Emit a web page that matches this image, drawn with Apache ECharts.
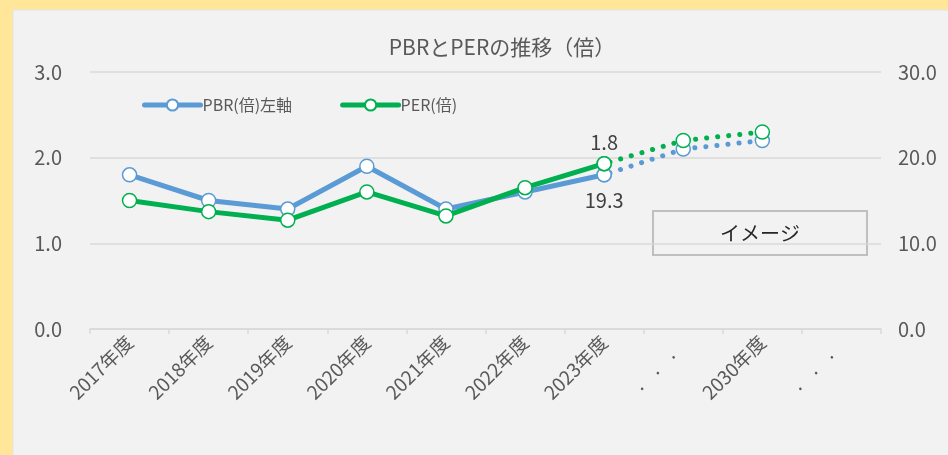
<!DOCTYPE html>
<html>
<head>
<meta charset="utf-8">
<script src="https://cdn.jsdelivr.net/npm/echarts@6/dist/echarts.min.js"></script>
<style>
  html, body { margin: 0; padding: 0; background: #FFE699; }
  #chart { width: 948px; height: 455px; }
</style>
</head>
<body>
<div id="chart"></div>
<script>
// データ
var years = ['2017年度', '2018年度', '2019年度', '2020年度', '2021年度', '2022年度', '2023年度', '.    .    .    ', '2030年度', '.    .    .    '];
var pbrActual = [1.8, 1.5, 1.4, 1.9, 1.4, 1.6, 1.8, '-', '-', '-'];
var pbrImage = ['-', '-', '-', '-', '-', '-', 1.8, 2.1, 2.2, '-'];
var perActual = [15.0, 13.7, 12.7, 16.0, 13.2, 16.5, 19.3, '-', '-', '-'];
var perImage = ['-', '-', '-', '-', '-', '-', 19.3, 22.0, 23.0, '-'];
var leftTicks = [0, 3, 1];
var rightTicks = [0, 30, 10];

var FONT = "'Noto Sans CJK JP', sans-serif";
var blue = '#5B9BD5';
var green = '#00B050';

var chart = echarts.init(document.getElementById('chart'));

// 2023年度だけラベルを出す
function withLabel(arr, idx, pos, off) {
    return arr.map(function (v, i) {
        if (i !== idx) return v;
        return {
            value: v,
            label: {
                show: true, position: pos, offset: off,
                fontFamily: FONT, fontSize: 20, color: '#404040',
                formatter: function (p) { return p.value.toFixed(1); }
            }
        };
    });
}

var marker = function (c) {
    return { color: '#fff', borderColor: c, borderWidth: 1.5 };
};

var option = {
    backgroundColor: '#FFE699',
    animation: false,
    graphic: [
        {
            type: 'rect', z: -10, silent: true,
            shape: { x: 13, y: 10, width: 940, height: 450 },
            style: { fill: '#F2F2F2', stroke: '#E3E3E3', lineWidth: 1 }
        },
        {
            type: 'group', left: 652, top: 210, z: 10,
            children: [
                { type: 'rect', shape: { x: 0, y: 0, width: 214, height: 44 },
                  style: { fill: '#F2F2F2', stroke: '#BFBFBF', lineWidth: 2 } },
                { type: 'text', x: 107, y: 22,
                  style: { text: 'イメージ', font: "20px 'Noto Sans CJK JP'", fill: '#262626',
                           align: 'center', verticalAlign: 'middle' } }
            ]
        }
    ],
    title: {
        text: 'PBRとPERの推移（倍）',
        left: 497, top: 32, textAlign: 'center',
        textStyle: { fontFamily: FONT, fontSize: 21, fontWeight: 'normal', color: '#595959' }
    },
    legend: {
        data: ['PBR(倍)左軸', 'PER(倍)'],
        left: 137, top: 92,
        itemWidth: 56, itemHeight: 14, itemGap: 48,
        lineStyle: { width: 5, cap: 'round' },
        textStyle: { fontFamily: FONT, fontSize: 16, color: '#595959', padding: [0, 0, 0, -3] }
    },
    grid: { left: 90, right: 67, top: 72, bottom: 126 },
    xAxis: {
        type: 'category',
        data: years,
        boundaryGap: true,
        axisLine: { lineStyle: { color: '#D9D9D9', width: 1.5 } },
        axisTick: { show: true, length: 5, lineStyle: { color: '#D9D9D9', width: 1.5 } },
        axisLabel: { rotate: 45, margin: 10, fontFamily: FONT, fontSize: 19, color: '#595959', interval: 0 }
    },
    yAxis: [
        {
            type: 'value', min: leftTicks[0], max: leftTicks[1], interval: leftTicks[2],
            axisLine: { show: false }, axisTick: { show: false },
            splitLine: { lineStyle: { color: '#D9D9D9', width: 1.5 } },
            axisLabel: { margin: 28, fontFamily: FONT, fontSize: 20, color: '#595959',
                         formatter: function (v) { return v.toFixed(1); } }
        },
        {
            type: 'value', min: rightTicks[0], max: rightTicks[1], interval: rightTicks[2],
            axisLine: { show: false }, axisTick: { show: false },
            splitLine: { show: false },
            axisLabel: { margin: 17, fontFamily: FONT, fontSize: 20, color: '#595959',
                         formatter: function (v) { return v.toFixed(1); } }
        }
    ],
    series: [
        {
            name: 'PBR(倍)左軸', type: 'line', yAxisIndex: 0,
            data: withLabel(pbrActual, 6, 'top', [0, -10]),
            symbol: 'circle', symbolSize: 14,
            lineStyle: { color: blue, width: 5 },
            itemStyle: marker(blue), color: blue, z: 2
        },
        {
            name: 'PBR予想', type: 'line', yAxisIndex: 0,
            data: pbrImage,
            symbol: 'circle', symbolSize: 14,
            lineStyle: { color: blue, width: 5, type: [0.1, 11], cap: 'round', dashOffset: -6 },
            itemStyle: marker(blue), color: blue, z: 2
        },
        {
            name: 'PER(倍)', type: 'line', yAxisIndex: 1,
            data: withLabel(perActual, 6, 'bottom', [0, 14]),
            symbol: 'circle', symbolSize: 14,
            lineStyle: { color: green, width: 5 },
            itemStyle: marker(green), color: green, z: 3
        },
        {
            name: 'PER予想', type: 'line', yAxisIndex: 1,
            data: perImage,
            symbol: 'circle', symbolSize: 14,
            lineStyle: { color: green, width: 5, type: [0.1, 11], cap: 'round', dashOffset: -6 },
            itemStyle: marker(green), color: green, z: 3
        }
    ]
};

chart.setOption(option);
</script>
</body>
</html>
